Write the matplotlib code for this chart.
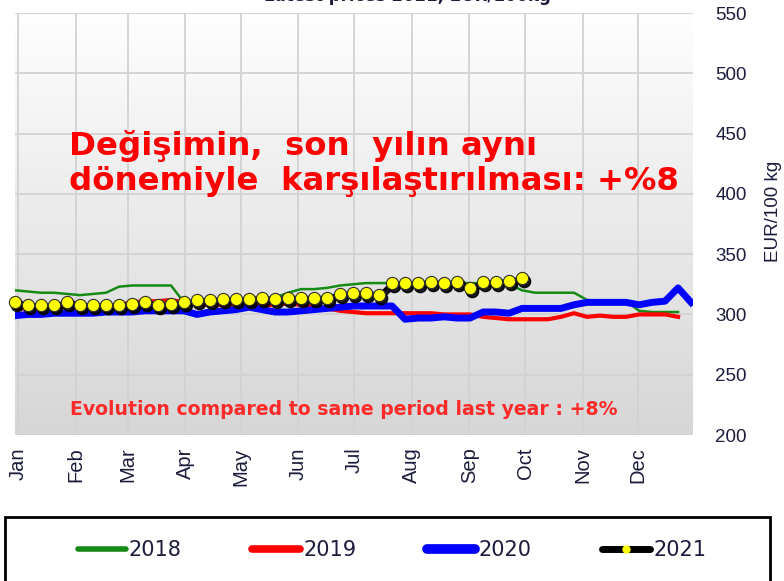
import numpy as np
import matplotlib
matplotlib.use('Agg')
import matplotlib.pyplot as plt
import matplotlib.transforms as mtransforms
from matplotlib.colors import LinearSegmentedColormap
from matplotlib.lines import Line2D
from matplotlib.patches import Rectangle

# weekly prices, EUR/100 kg
y2018 = [320, 319, 318, 318, 317, 316, 317, 318, 323, 324, 324, 324, 324,
         310, 310, 310, 311, 312, 312, 313, 314, 318, 321, 321, 322, 324,
         325, 326, 326, 326, 326, 326, 326, 326, 326, 326, 326, 326, 325,
         320, 318, 318, 318, 318, 312, 311, 311, 311, 303, 302, 302, 302]
y2019 = [305, 305, 306, 306, 306, 306, 307, 307, 308, 310, 311, 311, 312,
         310, 308, 308, 308, 308, 308, 307, 308, 309, 308, 306, 305, 303,
         302, 301, 301, 301, 301, 301, 301, 300, 300, 300, 298, 297, 296,
         296, 296, 296, 298, 301, 298, 299, 298, 298, 300, 300, 300, 298]
y2020 = [299, 300, 300, 301, 301, 301, 301, 302, 302, 302, 303, 303, 303,
         303, 300, 302, 303, 304, 306, 304, 302, 302, 303, 304, 305, 306,
         307, 307, 307, 307, 296, 297, 297, 298, 297, 297, 302, 302, 301,
         305, 305, 305, 305, 308, 310, 310, 310, 310, 308, 310, 311, 322, 310]
y2021 = [310, 308, 308, 308, 310, 308, 308, 308, 308, 309, 310, 308, 309,
         310, 312, 312, 313, 313, 313, 314, 313, 314, 314, 314, 314, 317,
         318, 318, 316, 326, 326, 326, 327, 326, 327, 322, 327, 327, 328, 330]

months = ['Jan', 'Feb', 'Mar', 'Apr', 'May', 'Jun', 'Jul', 'Aug', 'Sep', 'Oct', 'Nov', 'Dec']
month_start_day = [0, 31, 59, 90, 120, 151, 181, 212, 243, 273, 304, 334]
yticks = [200, 250, 300, 350, 400, 450, 500, 550]

txt_col = '#1c1c3c'

fig = plt.figure(figsize=(7.84, 5.81), dpi=100)
ax = fig.add_axes([15/784, 1-435/581, 678/784, 422/581])

# background gradient, white at top to light grey at bottom
cm = LinearSegmentedColormap.from_list('bg', ['#d6d6d6', '#fefefe'])
ax.imshow(np.linspace(0, 1, 256)[:, None], extent=[0, 1, 0, 1], transform=ax.transAxes,
          aspect='auto', cmap=cm, origin='lower', zorder=-2)

def weeks(vals):
    return np.arange(1, len(vals) + 1)

ax.plot(weeks(y2018), y2018, color='#158a15', lw=1.8, zorder=3)
ax.plot(weeks(y2019), y2019, color='#ff0000', lw=3.0, zorder=4)
ax.plot(weeks(y2020), y2020, color='#0000ff', lw=5.0, zorder=5)

# 2021: dark drop shadow first, then the line with yellow dots
shadow = ax.transData + mtransforms.ScaledTranslation(2/100, -3/100, fig.dpi_scale_trans)
ax.plot(weeks(y2021), y2021, color='black', lw=3, marker='o', ms=8.8, mfc='black',
        mec='black', alpha=0.9, transform=shadow, zorder=6, clip_on=False)
ax.plot(weeks(y2021), y2021, color='black', lw=2.5, marker='o', ms=8.8,
        mfc='#ffff00', mec='#303030', mew=0.8, zorder=7, clip_on=False)

mpos = 1 + (np.array(month_start_day) + 1.6) / 7
ax.set_xticks(mpos)
ax.set_xticklabels(months, rotation=90, fontsize=14.5, color=txt_col, family='Liberation Sans')
ax.set_xlim(1.0, 53.15)
ax.set_ylim(200, 550)
ax.set_yticks(yticks)
ax.set_yticklabels([str(v) for v in yticks], family='Liberation Sans')
ax.yaxis.tick_right()
ax.tick_params(axis='y', length=0, pad=16, labelsize=13.5, labelcolor=txt_col)
ax.tick_params(axis='x', length=0, pad=9)
ax.grid(True, color='#d2d2d2', lw=1.3)
ax.set_axisbelow(True)
for s in ax.spines.values():
    s.set_visible(False)

ax.set_ylabel('EUR/100 kg', fontsize=13.5, color=txt_col, family='Liberation Sans')
ax.yaxis.set_label_position('right')
ax.yaxis.set_label_coords(1.106, 0.531)

ax.text(0.08, (435-190)/422, 'Değişimin,  son  yılın aynı\ndönemiyle  karşılaştırılması: +%8',
        transform=ax.transAxes, fontsize=23.3, fontweight='bold', color='#ff0000',
        family='DejaVu Sans', linespacing=1.15, va='baseline', ha='left')
ax.text(0.081, (435-415)/422, 'Evolution compared to same period last year : +8%',
        transform=ax.transAxes, fontsize=13.6, fontweight='bold', color='#ff2a2a',
        va='baseline')

fig.text(0.52, 1 - 1/581, 'Latest prices 2021, EUR/100kg', ha='center', va='baseline',
         fontsize=12, fontweight='bold', color=txt_col)

# legend frame
fig.patches.append(Rectangle((5/784, -0.05), 765/784, 0.05 + 1 - 517/581,
                             transform=fig.transFigure, fill=False, ec='black', lw=2))
handles = [Line2D([], [], color='#158a15', lw=4, solid_capstyle='round'),
           Line2D([], [], color='#ff0000', lw=5.5, solid_capstyle='round'),
           Line2D([], [], color='#0000ff', lw=7, solid_capstyle='round'),
           Line2D([], [], color='black', lw=5, marker='o', ms=5, mfc='#ffff00',
                  mec='#ffff00', solid_capstyle='round')]
fig.legend(handles, ['2018', '2019', '2020', '2021'], ncol=4, loc='center',
           bbox_to_anchor=(392/784, 1 - 550/581), frameon=False, fontsize=15,
           handlelength=2.3, handletextpad=0.15, columnspacing=3.4, labelcolor=txt_col)

fig.savefig('out.png', dpi=100)
